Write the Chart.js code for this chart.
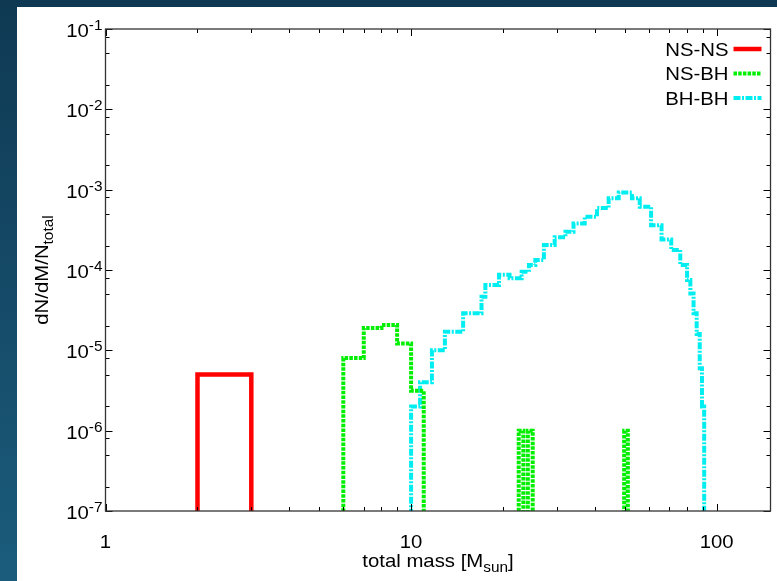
<!DOCTYPE html>
<html>
<head>
<meta charset="utf-8">
<title>Total mass distribution</title>
<script src="https://cdn.jsdelivr.net/npm/chart.js@4.4.1/dist/chart.umd.min.js"></script>
<style>
    html, body { margin: 0; padding: 0; }
    body {
        width: 777px;
        height: 581px;
        overflow: hidden;
        position: relative;
        background: linear-gradient(to bottom, #0f3953, #1b5c7c);
    }
    #panel {
        position: absolute;
        left: 17px;
        top: 7px;
        width: 760px;
        height: 574px;
        background: #ffffff;
    }
</style>
</head>
<body>
<div id="panel"><canvas id="massChart" width="760" height="574"></canvas></div>
<script>
// value used for empty bins (falls below the axis and is clipped)
const FLOOR = 1e-9;

// axis ranges and ticks
const xMin = 1, xMax = 150;
const yMin = 1e-7, yMax = 1e-1;
const xTickValues = [1, 10, 100];
const xTickLabels = ['1', '10', '100'];
const xMinorSteps = [2, 3, 4, 5, 6, 7, 8, 9];
const yTickValues = [1e-7, 1e-6, 1e-5, 1e-4, 1e-3, 1e-2, 1e-1];
const yTickExponents = ['-7', '-6', '-5', '-4', '-3', '-2', '-1'];
const yMinorSteps = [2, 5, 8];

// NS-NS histogram (bin edges + values)
const nsnsEdges = [2, 3];
const nsnsValues = [5e-6];

// NS-BH histogram
const nsbhEdges = [6, 7, 8, 9, 10, 11, 22.5, 23.3, 24.1, 25, 25.8, 49.8, 51.2];
const nsbhValues = [8e-6, 1.9e-5, 2.07e-5, 1.22e-5, 3.15e-6, 0, 1e-6, 0, 1e-6, 0, 0, 1e-6];

// BH-BH histogram
const bhbhEdges = [10, 10.7, 11.7, 12.9, 14.8, 17, 17.5, 19.4, 21, 23, 24.3, 25.5, 27.2, 29.5, 32, 34, 37,
    40.6, 44.3, 47.8, 52.8, 56, 61, 66, 71, 76, 80, 82, 84, 86, 88, 89.5, 91];
const bhbhValues = [2e-6, 4e-6, 1e-5, 1.7e-5, 2.9e-5, 4.65e-5, 6.5e-5, 8.7e-5, 7.9e-5, 9.5e-5, 1.15e-4,
    1.33e-4, 2.05e-4, 2.55e-4, 3e-4, 3.8e-4, 4.6e-4, 5.9e-4, 7.8e-4, 9.2e-4, 7.8e-4, 6.15e-4, 3.6e-4,
    2.4e-4, 1.77e-4, 1.15e-4, 7.5e-5, 5.1e-5, 2.9e-5, 1.6e-5, 6e-6, 2e-6];

const FONT = '"Liberation Sans", Arial, Helvetica, sans-serif';
const STRETCH = 1.1;

// turn bin edges/values into points for a stepped line
function histPoints(edges, values) {
    const pts = [{ x: edges[0], y: FLOOR }];
    values.forEach((v, i) => pts.push({ x: edges[i], y: v > 0 ? v : FLOOR }));
    pts.push({ x: edges[edges.length - 1], y: FLOOR });
    return pts;
}

// text drawn slightly wider, like the original
function stretchText(ctx, text, x, y, size, align) {
    ctx.save();
    ctx.font = size + 'px ' + FONT;
    ctx.translate(x, y);
    ctx.scale(STRETCH, 1);
    const w = ctx.measureText(text).width;
    let dx = 0;
    if (align === 'center') dx = -w / 2;
    if (align === 'right') dx = -w;
    ctx.textAlign = 'left';
    ctx.fillText(text, dx, 0);
    ctx.restore();
    return w * STRETCH;
}

function textWidth(ctx, text, size) {
    ctx.save();
    ctx.font = size + 'px ' + FONT;
    const w = ctx.measureText(text).width * STRETCH;
    ctx.restore();
    return w;
}

const framePlugin = {
    id: 'frame',
    afterDatasetsDraw(chart) {
        const { ctx, chartArea: a, scales: { x, y } } = chart;
        ctx.save();
        ctx.fillStyle = '#000';
        ctx.strokeStyle = '#000';
        ctx.lineWidth = 1;
        ctx.textBaseline = 'alphabetic';

        // ticks on all four sides, pointing inwards
        ctx.beginPath();
        for (let d = 0; d < 3; d++) {
            const base = Math.pow(10, d);
            const px = Math.round(x.getPixelForValue(base)) + 0.5;
            ctx.moveTo(px, a.bottom); ctx.lineTo(px, a.bottom - 7);
            ctx.moveTo(px, a.top); ctx.lineTo(px, a.top + 7);
            xMinorSteps.forEach(m => {
                const v = base * m;
                if (v > xMax) return;
                const mx = Math.round(x.getPixelForValue(v)) + 0.5;
                ctx.moveTo(mx, a.bottom); ctx.lineTo(mx, a.bottom - 4);
                ctx.moveTo(mx, a.top); ctx.lineTo(mx, a.top + 4);
            });
        }
        yTickValues.forEach(v => {
            const py = Math.round(y.getPixelForValue(v)) + 0.5;
            ctx.moveTo(a.left, py); ctx.lineTo(a.left + 7, py);
            ctx.moveTo(a.right, py); ctx.lineTo(a.right - 7, py);
            if (v >= yMax) return;
            yMinorSteps.forEach(m => {
                const my = Math.round(y.getPixelForValue(v * m)) + 0.5;
                ctx.moveTo(a.left, my); ctx.lineTo(a.left + 4, my);
                ctx.moveTo(a.right, my); ctx.lineTo(a.right - 4, my);
            });
        });
        ctx.stroke();

        // border
        ctx.strokeStyle = '#333';
        ctx.lineWidth = 1.3;
        ctx.strokeRect(a.left, a.top, a.right - a.left, a.bottom - a.top);

        // x tick labels
        xTickValues.forEach((v, i) => {
            stretchText(ctx, xTickLabels[i], x.getPixelForValue(v), a.bottom + 37, 18.5, 'center');
        });

        // y tick labels: 10 with superscript exponent
        yTickValues.forEach((v, i) => {
            const py = y.getPixelForValue(v);
            const expW = textWidth(ctx, yTickExponents[i], 14);
            const right = a.left - 3;
            stretchText(ctx, yTickExponents[i], right - expW, py + 1, 14, 'left');
            stretchText(ctx, '10', right - expW, py + 8, 18.5, 'right');
        });

        // x axis title with subscript
        const cx = (a.left + a.right) / 2;
        const t1 = 'total mass [M', t2 = 'sun', t3 = ']';
        const w1 = textWidth(ctx, t1, 18.5), w2 = textWidth(ctx, t2, 14), w3 = textWidth(ctx, t3, 18.5);
        let sx = cx - (w1 + w2 + w3) / 2;
        const by = a.bottom + 56;
        sx += stretchText(ctx, t1, sx, by, 18.5, 'left');
        sx += stretchText(ctx, t2, sx, by + 5, 14, 'left');
        stretchText(ctx, t3, sx, by, 18.5, 'left');

        // y axis title, rotated
        ctx.save();
        ctx.translate(a.left - 58, (a.top + a.bottom) / 2);
        ctx.rotate(-Math.PI / 2);
        const m1 = 'dN/dM/N', m2 = 'total';
        const u1 = textWidth(ctx, m1, 18.5), u2 = textWidth(ctx, m2, 14);
        let tx = -(u1 + u2) / 2;
        tx += stretchText(ctx, m1, tx, 0, 18.5, 'left');
        stretchText(ctx, m2, tx, 5, 14, 'left');
        ctx.restore();

        // legend: right aligned text, line sample to its right
        chart.data.datasets.forEach((ds, i) => {
            const ly = a.top + 20 + i * 24.5;
            stretchText(ctx, ds.label, a.right - 42, ly + 6.5, 18.5, 'right');
            ctx.save();
            ctx.strokeStyle = ds.borderColor;
            ctx.lineWidth = ds.borderWidth;
            ctx.setLineDash(ds.borderDash || []);
            ctx.beginPath();
            ctx.moveTo(a.right - 37, ly);
            ctx.lineTo(a.right - 9, ly);
            ctx.stroke();
            ctx.restore();
        });
        ctx.restore();
    }
};

const commonLine = {
    fill: false,
    stepped: true,
    tension: 0,
    pointRadius: 0,
    clip: { left: 4, top: 4, right: 4, bottom: 0 }
};

const massChart = new Chart(document.getElementById('massChart'), {
    type: 'line',
    data: {
        datasets: [
            Object.assign({
                label: 'NS-NS',
                data: histPoints(nsnsEdges, nsnsValues),
                borderColor: '#ff0000',
                borderWidth: 4.5,
                borderDash: []
            }, commonLine),
            Object.assign({
                label: 'NS-BH',
                data: histPoints(nsbhEdges, nsbhValues),
                borderColor: '#00ee00',
                borderWidth: 4,
                borderDash: [3.5, 1.2]
            }, commonLine),
            Object.assign({
                label: 'BH-BH',
                data: histPoints(bhbhEdges, bhbhValues),
                borderColor: '#00eef0',
                borderWidth: 4,
                borderDash: [7, 1.5, 2, 1.5]
            }, commonLine)
        ]
    },
    options: {
        responsive: false,
        animation: false,
        layout: { padding: { left: 88.5, top: 22, right: 6.5, bottom: 70 } },
        scales: {
            x: { type: 'logarithmic', min: xMin, max: xMax, display: false },
            y: { type: 'logarithmic', min: yMin, max: yMax, display: false }
        },
        plugins: {
            legend: { display: false },
            tooltip: { enabled: false }
        }
    },
    plugins: [framePlugin]
});
</script>
</body>
</html>
